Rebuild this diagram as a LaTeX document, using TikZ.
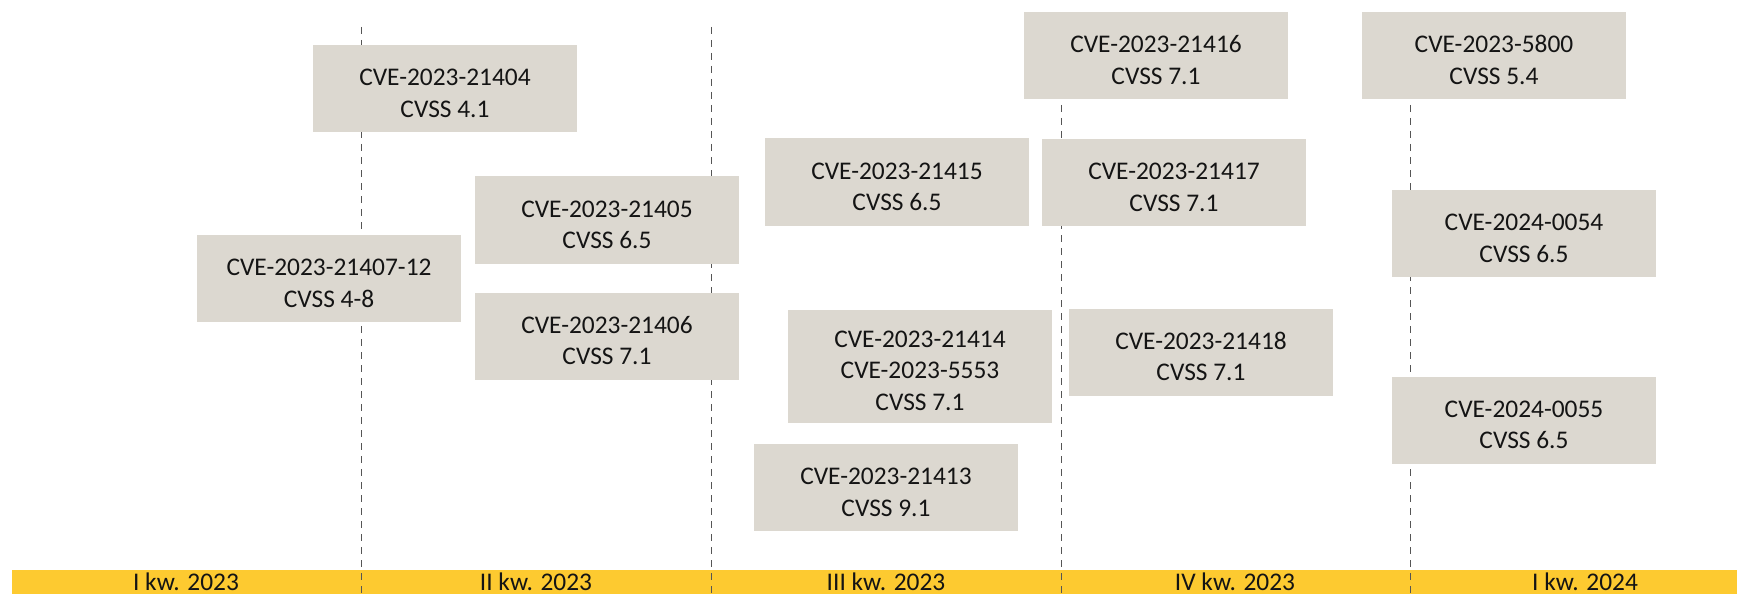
\documentclass[tikz,border=0pt]{standalone}
\usepackage{fontspec}
\setmainfont{Carlito}
\usetikzlibrary{positioning}
\definecolor{stone}{HTML}{DCD8D0}
\definecolor{amber}{HTML}{FDCA30}
\definecolor{rulegray}{HTML}{555555}
\definecolor{ink}{HTML}{141414}
\newcommand\cvestrut{\rule{0pt}{26bp}}

\begin{document}
\begin{tikzpicture}[x=1bp,y=-1bp,
  cve/.style={fill=stone,text=ink,minimum width=264bp,minimum height=87bp,inner sep=0pt,align=center,
    font=\fontsize{25.5}{31.5}\selectfont},
  qtr/.style={text=ink,anchor=base,inner sep=0pt,font=\fontsize{25.5}{30}\selectfont}]
\useasboundingbox (0,0) rectangle (1737,594);
\fill[amber] (12,570) rectangle (1737,594);
% quarter dividers
\foreach \x [count=\i] in {361,711,1061,1410}{
  \coordinate (top\i) at (\x,27);
  \coordinate (bot\i) at (\x,594);
  \draw[rulegray,line width=0.9bp,dash pattern=on 7bp off 6bp] (top\i) -- (bot\i);
}
\node[qtr] (q1) at (186,590) {I kw. 2023};
\node[qtr] (q2) at (536,590) {II kw. 2023};
\node[qtr] (q3) at (886,590) {III kw. 2023};
\node[qtr] (q4) at (1235,590) {IV kw. 2023};
\node[qtr] (q5) at (1585,590) {I kw. 2024};
% first half 2023
\node[cve] (c21404) at (445,88.5) {\cvestrut CVE-2023-21404\\CVSS 4.1};
\node[cve] (c21405) at (607,220) {\cvestrut CVE-2023-21405\\CVSS 6.5};
\node[cve] (c21407) at (329,278.5) {\cvestrut CVE-2023-21407-12\\CVSS 4-8};
\node[cve] (c21406) at (607,336) {\cvestrut CVE-2023-21406\\CVSS 7.1};
% second half 2023
\node[cve] (c21415) at (897,182) {\cvestrut CVE-2023-21415\\CVSS 6.5};
\node[cve,minimum height=113bp] (c21414) at (920,366) {\cvestrut CVE-2023-21414\\CVE-2023-5553\\CVSS 7.1};
\node[cve] (c21413) at (886,487.5) {\cvestrut CVE-2023-21413\\CVSS 9.1};
\node[cve] (c21416) at (1156,55.5) {\cvestrut CVE-2023-21416\\CVSS 7.1};
\node[cve] (c21417) at (1174,182.5) {\cvestrut CVE-2023-21417\\CVSS 7.1};
\node[cve] (c21418) at (1201,352) {\cvestrut CVE-2023-21418\\CVSS 7.1};
% 2024
\node[cve] (c5800) at (1494,55.5) {\cvestrut CVE-2023-5800\\CVSS 5.4};
\node[cve] (c0054) at (1524,233.5) {\cvestrut CVE-2024-0054\\CVSS 6.5};
\node[cve] (c0055) at (1524,420) {\cvestrut CVE-2024-0055\\CVSS 6.5};
\end{tikzpicture}
\end{document}
